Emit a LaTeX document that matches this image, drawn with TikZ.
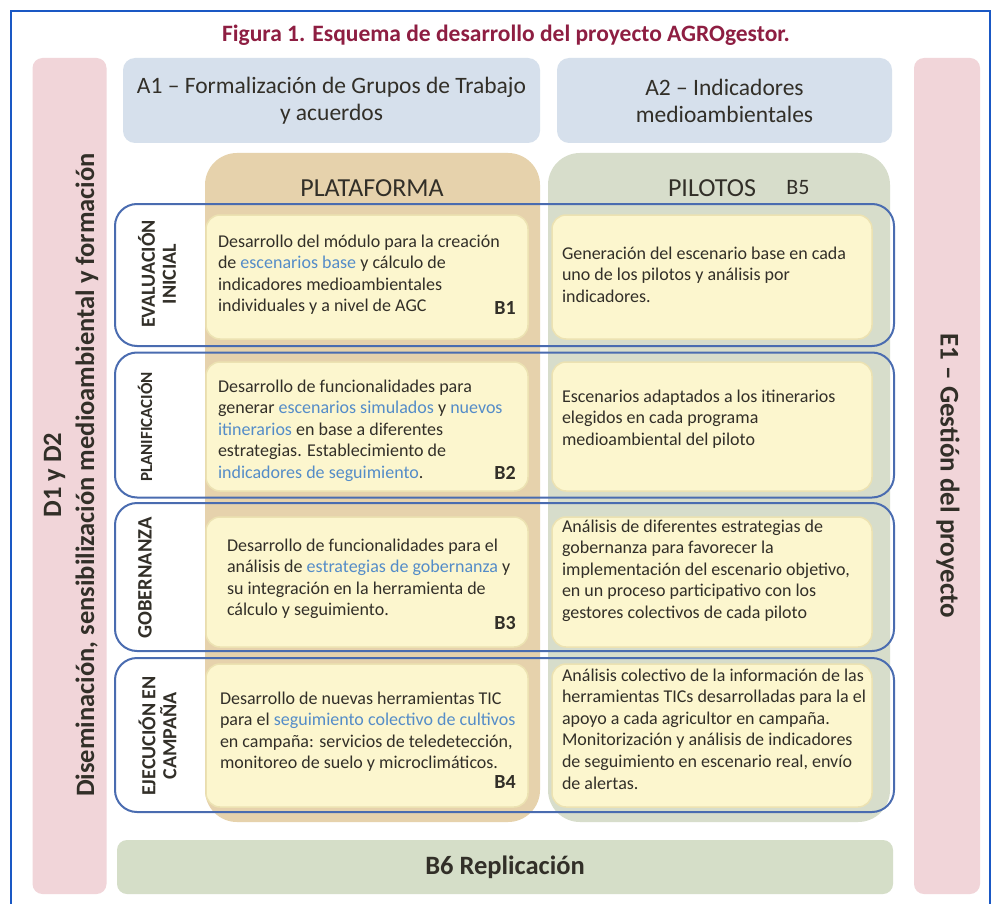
\documentclass[tikz,border=0pt]{standalone}
\usepackage{fontspec}
\setmainfont{Carlito}
\definecolor{framec}{RGB}{26,88,196}
\definecolor{titlec}{RGB}{142,30,66}
\definecolor{pinkc}{RGB}{241,213,217}
\definecolor{lbluec}{RGB}{214,224,236}
\definecolor{tanc}{RGB}{230,210,172}
\definecolor{sagec}{RGB}{215,221,203}
\definecolor{yelc}{RGB}{252,246,206}
\definecolor{yeledge}{RGB}{236,226,178}
\definecolor{rowc}{RGB}{74,108,176}
\definecolor{greenc}{RGB}{213,222,200}
\definecolor{txtc}{RGB}{50,47,40}
\definecolor{hlc}{RGB}{84,140,200}
\newcommand{\hl}[1]{\textcolor{hlc}{#1}}
\begin{document}
\begin{tikzpicture}[x=1pt,y=-1pt,
  box/.style={inner sep=0pt, outer sep=0pt},
  pinkbar/.style={box, fill=pinkc, rounded corners=10pt},
  topbox/.style={box, fill=lbluec, rounded corners=12pt, align=center, text=txtc, font=\fontsize{23.5}{27}\selectfont},
  column/.style={box, rounded corners=32pt},
  ybox/.style={box, fill=yelc, draw=yeledge, line width=1.5pt, rounded corners=14pt},
  rowline/.style={box, draw=rowc, line width=2pt, rounded corners=22pt},
  body/.style={box, anchor=north west, align=left, text=txtc, font=\fontsize{18}{21.6}\selectfont},
  blab/.style={box, text=txtc, font=\bfseries\fontsize{20}{22}\selectfont},
  rlab/.style={box, rotate=90, align=center, text=txtc, font=\bfseries\fontsize{20}{21}\selectfont},
  head/.style={box, text=txtc, font=\fontsize{26}{28}\selectfont},
  sidetxt/.style={box, align=center, text=txtc, font=\bfseries\fontsize{26.5}{33}\selectfont}]
\useasboundingbox (0,0) rectangle (1003,904);
\fill[white] (0,0) rectangle (1003,904);
% frame
\coordinate (fbl) at (11,904);
\coordinate (ftl) at (11,11);
\coordinate (ftr) at (990,11);
\coordinate (fbr) at (990,904);
\draw[framec, line width=2.5pt] (fbl) -- (ftl) -- (ftr) -- (fbr);
% title
\node[box, text=titlec, font=\bfseries\fontsize{23.5}{26}\selectfont] (title) at (506,35) {Figura 1. Esquema de desarrollo del proyecto AGROgestor.};
% side bars
\node[pinkbar, minimum width=74, minimum height=836] (dbar) at (69.5,476) {};
\node[pinkbar, minimum width=66, minimum height=836] (ebar) at (947,476) {};
\node[sidetxt, rotate=90] (dtxt) at (71,475) {D1 y D2\\Diseminación, sensibilización medioambiental y formación};
\node[sidetxt, font=\bfseries\fontsize{27}{33}\selectfont, rotate=-90] (etxt) at (948,476) {E1 – Gestión del proyecto};
% top boxes
\node[topbox, minimum width=417, minimum height=85] (a1) at (331.5,100.5) {A1 – Formalización de Grupos de Trabajo\\y acuerdos};
\node[topbox, minimum width=335, minimum height=85] (a2) at (724.5,100.5) {A2 – Indicadores\\medioambientales};
% columns
\node[column, fill=tanc, minimum width=335, minimum height=669] (plat) at (372.5,487.5) {};
\node[column, fill=sagec, minimum width=342, minimum height=669] (pil) at (719,487.5) {};
\node[head] (plath) at (372,188) {PLATAFORMA};
\node[head] (pilh) at (712,188) {PILOTOS};
\node[box, text=txtc, font=\fontsize{22}{24}\selectfont] (b5) at (798,188) {B5};
% yellow boxes
\node[ybox, minimum width=322, minimum height=124] (y1l) at (367,277) {};
\node[ybox, minimum width=322, minimum height=129] (y2l) at (367,426.5) {};
\node[ybox, minimum width=322, minimum height=130] (y3l) at (367,582) {};
\node[ybox, minimum width=322, minimum height=143] (y4l) at (367,735.5) {};
\node[ybox, minimum width=320, minimum height=124] (y1r) at (712,277) {};
\node[ybox, minimum width=320, minimum height=129] (y2r) at (712,426.5) {};
\node[ybox, minimum width=320, minimum height=130] (y3r) at (712,582) {};
\node[ybox, minimum width=320, minimum height=143] (y4r) at (712,735.5) {};
% row outlines
\node[rowline, minimum width=779, minimum height=142] (r1) at (504.5,275) {};
\node[rowline, minimum width=779, minimum height=145] (r2) at (504.5,425) {};
\node[rowline, minimum width=779, minimum height=148] (r3) at (504.5,577) {};
\node[rowline, minimum width=779, minimum height=154] (r4) at (504.5,735) {};
% row labels
\node[rlab] (lab1) at (157,274) {EVALUACIÓN\\INICIAL};
\node[rlab, font=\bfseries\fontsize{17}{20}\selectfont] (lab2) at (145,427) {PLANIFICACIÓN};
\node[rlab, font=\bfseries\fontsize{20.5}{22}\selectfont] (lab3) at (145,578) {GOBERNANZA};
\node[rlab] (lab4) at (157.5,736) {EJECUCIÓN EN\\CAMPAÑA};
% texts left
\node[body] (t1l) at (218,232) {\strut Desarrollo del módulo para la creación\\de \hl{escenarios base} y cálculo de\\indicadores medioambientales\\individuales y a nivel de AGC};
\node[body] (t2l) at (218,377) {\strut Desarrollo de funcionalidades para\\generar \hl{escenarios simulados} y \hl{nuevos}\\\hl{itinerarios} en base a diferentes\\estrategias. Establecimiento de\\\hl{indicadores de seguimiento}.};
\node[body] (t3l) at (227,536) {\strut Desarrollo de funcionalidades para el\\análisis de \hl{estrategias de gobernanza} y\\su integración en la herramienta de\\cálculo y seguimiento.};
\node[body] (t4l) at (220,689) {\strut Desarrollo de nuevas herramientas TIC\\para el \hl{seguimiento colectivo de cultivos}\\en campaña: servicios de teledetección,\\monitoreo de suelo y microclimáticos.};
\node[blab] (b1) at (505,308) {B1};
\node[blab] (b2) at (505,473) {B2};
\node[blab] (b3) at (505,623) {B3};
\node[blab] (b4) at (505,782) {B4};
% texts right
\node[body] (t1r) at (562,244) {\strut Generación del escenario base en cada\\uno de los pilotos y análisis por\\indicadores.};
\node[body] (t2r) at (562,387) {\strut Escenarios adaptados a los itinerarios\\elegidos en cada programa\\medioambiental del piloto};
\node[body] (t3r) at (562,517) {\strut Análisis de diferentes estrategias de\\gobernanza para favorecer la\\implementación del escenario objetivo,\\en un proceso participativo con los\\gestores colectivos de cada piloto};
\node[body] (t4r) at (562,666) {\strut Análisis colectivo de la información de las\\herramientas TICs desarrolladas para la el\\apoyo a cada agricultor en campaña.\\Monitorización y análisis de indicadores\\de seguimiento en escenario real, envío\\de alertas.};
% B6
\node[box, fill=greenc, rounded corners=10pt, minimum width=776, minimum height=54, text=txtc, font=\bfseries\fontsize{26.5}{28}\selectfont] (b6) at (505,867) {B6 Replicación};
\end{tikzpicture}
\end{document}
